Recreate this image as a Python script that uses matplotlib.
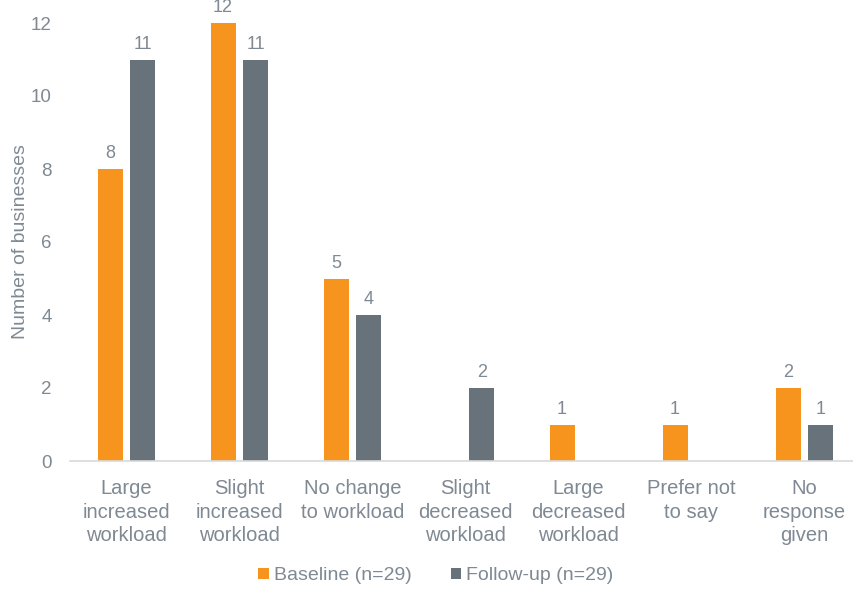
import numpy as np
import matplotlib.pyplot as plt

plt.rcParams['font.family'] = ['Liberation Sans', 'DejaVu Sans']

categories = ["Large\nincreased\nworkload", "Slight\nincreased\nworkload",
              "No change\nto workload", "Slight\ndecreased\nworkload",
              "Large\ndecreased\nworkload", "Prefer not\nto say", "No\nresponse\ngiven"]
baseline = [8, 12, 5, 0, 1, 1, 2]
followup = [11, 11, 4, 2, 0, 0, 1]
yticks = [0, 2, 4, 6, 8, 10, 12]

orange = "#F7941D"
grey = "#68727A"
txt = "#7F8993"

fig = plt.figure(figsize=(8.54, 5.9), dpi=100)
ax = fig.add_axes([70/854, 129/590, 791/854, 438/590])

x = np.arange(len(categories))
w = 0.22
off = 0.145
b1 = ax.bar(x - off, baseline, w, color=orange, label="Baseline (n=29)")
b2 = ax.bar(x + off, followup, w, color=grey, label="Follow-up (n=29)")

# value labels, skipping empty bars
for bars, vals in ((b1, baseline), (b2, followup)):
    for r, v in zip(bars, vals):
        if v > 0:
            ax.annotate(str(v), (r.get_x() + r.get_width()/2, v), xytext=(0, 5),
                        textcoords="offset points", ha="center", va="bottom",
                        fontsize=13, color=txt)

ax.set_xlim(-0.5, len(categories) - 0.5)
ax.set_ylim(0, 12)
ax.set_yticks(yticks)
ax.set_xticks(x)
ax.set_xticklabels(categories, fontsize=14.5, color=txt, linespacing=1.3)
ax.tick_params(axis="y", length=0, pad=13, labelsize=13.5, labelcolor=txt)
ax.tick_params(axis="x", length=0, pad=13)
for s in ("top", "right", "left"):
    ax.spines[s].set_visible(False)
ax.spines["bottom"].set_color("#D9D9D9")
ax.spines["bottom"].set_linewidth(1.2)

ax.set_ylabel("Number of businesses", fontsize=14, color=txt)
ax.yaxis.set_label_coords(-41/791, 0.5)

leg = fig.legend(loc="center", bbox_to_anchor=(436/854, 1 - 576/590), ncol=2,
                 frameon=False, fontsize=14, handlelength=0.55, handleheight=0.55,
                 handletextpad=0.25, columnspacing=2.0)
for t in leg.get_texts():
    t.set_color(txt)

fig.savefig("out.png", dpi=100)
